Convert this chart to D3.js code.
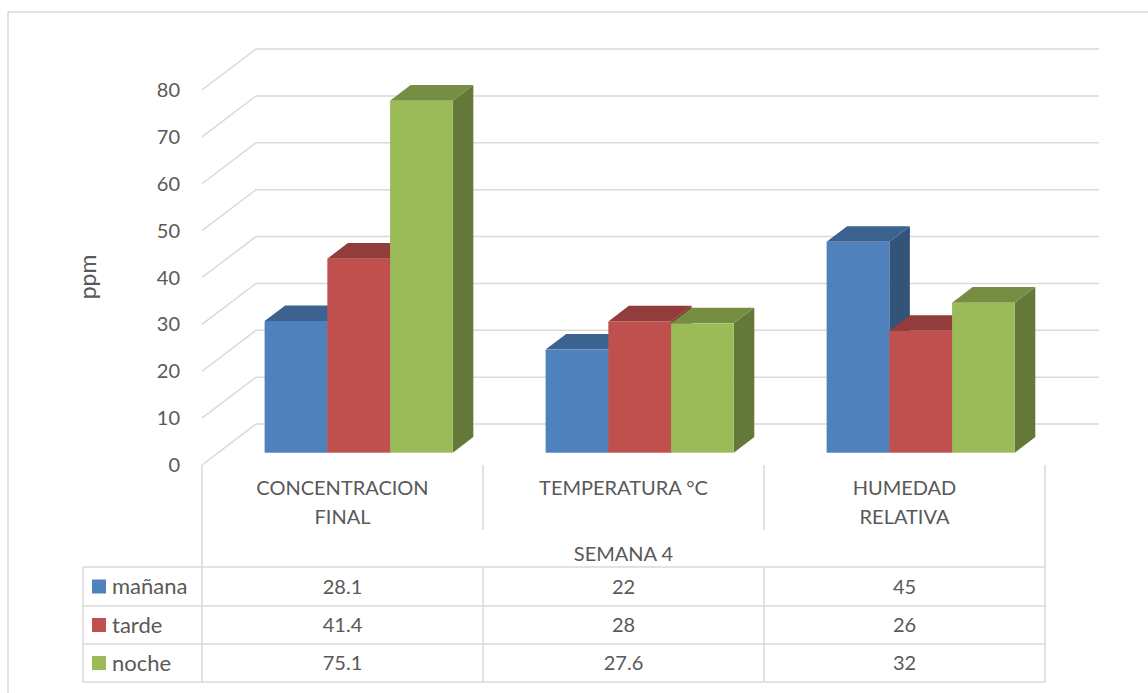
<!DOCTYPE html>
<html>
<head>
<meta charset="utf-8">
<script src="https://cdn.jsdelivr.net/npm/d3@7"></script>
<style>
  body { margin: 0; background: #ffffff; }
  text { font-family: Lato, "Open Sans", sans-serif; fill: #595959; }
</style>
</head>
<body>
<div id="my_dataviz"></div>
<script>
// data
var categories = [["CONCENTRACION", "FINAL"], ["TEMPERATURA °C"], ["HUMEDAD", "RELATIVA"]];
var series = ["mañana", "tarde", "noche"];
var colors = ["#4F81BD", "#C0504D", "#9BBB59"];
var manana = [28.1, 22, 45];
var tarde = [41.4, 28, 26];
var noche = [75.1, 27.6, 32];
var groupLabel = "SEMANA 4";
var yTicks = [0, 10, 20, 30, 40, 50, 60, 70, 80];

var values = [manana, tarde, noche];

var width = 1148
    height = 693

var svg = d3.select("#my_dataviz")
  .append("svg")
    .attr("width", width)
    .attr("height", height);

// chart border
svg.append("rect")
  .attr("x", 8).attr("y", 12)
  .attr("width", 1160).attr("height", 700)
  .attr("fill", "none")
  .attr("stroke", "#D9D9D9")
  .attr("stroke-width", 1.5);

// front plane of the floor, depth vector to back wall
var x0 = 202, x1 = 1045;
var DX = 54, DY = -41;
var t0 = 0.3, t1 = 0.68; // bar depth (front, back) as fraction of floor depth

var y = d3.scaleLinear().domain([0, 80]).range([465, 90]);

var catIdx = categories.map(function(c, i) { return i; });
var x = d3.scaleBand().domain(catIdx).range([x0, x1]);
var xs = d3.scaleBand().domain(series).range([0, x.bandwidth()]).paddingOuter(0.74);

var grid = svg.append("g");

// gridlines: side wall diagonal + back wall horizontal
yTicks.forEach(function(v) {
  var yy = y(v);
  grid.append("path")
    .attr("d", "M" + x0 + "," + yy + "L" + (x0 + DX) + "," + (yy + DY) + "L" + (x1 + DX) + "," + (yy + DY))
    .attr("fill", "none")
    .attr("stroke", "#D9D9D9")
    .attr("stroke-width", 1.5);
  svg.append("text")
    .attr("x", 180)
    .attr("y", yy)
    .attr("dy", "0.35em")
    .attr("text-anchor", "end")
    .style("font-size", "20px")
    .text(v);
});

// axis title
svg.append("text")
  .attr("transform", "translate(88,277) rotate(-90)")
  .attr("dy", "0.35em")
  .attr("text-anchor", "middle")
  .style("font-size", "23px")
  .text("ppm");

// 3d bars
function shade(c, k) {
  var r = d3.rgb(c);
  return d3.rgb(r.r * k, r.g * k, r.b * k).formatHex();
}

var bars = svg.append("g");
catIdx.forEach(function(ci) {
  series.forEach(function(s, si) {
    var v = values[si][ci];
    var bx = x(ci) + xs(s) + t0 * DX;
    var bw = xs.bandwidth();
    var yt = y(v) + t0 * DY;
    var yb = y(0) + t0 * DY;
    var ddx = (t1 - t0) * DX, ddy = (t1 - t0) * DY;
    // side face
    bars.append("path")
      .attr("d", "M" + (bx + bw) + "," + yt + "L" + (bx + bw + ddx) + "," + (yt + ddy) +
        "L" + (bx + bw + ddx) + "," + (yb + ddy) + "L" + (bx + bw) + "," + yb + "Z")
      .attr("fill", shade(colors[si], 0.64));
    // top face
    bars.append("path")
      .attr("d", "M" + bx + "," + yt + "L" + (bx + ddx) + "," + (yt + ddy) +
        "L" + (bx + bw + ddx) + "," + (yt + ddy) + "L" + (bx + bw) + "," + yt + "Z")
      .attr("fill", shade(colors[si], 0.76));
    // front face
    bars.append("rect")
      .attr("x", bx).attr("y", yt)
      .attr("width", bw).attr("height", yb - yt)
      .attr("fill", colors[si]);
  });
});

// data table
var tl = 83;
var rowY = [567, 606, 644, 682];
var tg = svg.append("g")
  .attr("stroke", "#D9D9D9")
  .attr("stroke-width", 1.5);

rowY.forEach(function(r) {
  tg.append("line").attr("x1", tl).attr("x2", x1).attr("y1", r).attr("y2", r);
});
tg.append("line").attr("x1", tl).attr("x2", tl).attr("y1", rowY[0]).attr("y2", rowY[3]);
tg.append("line").attr("x1", x0).attr("x2", x0).attr("y1", y(0)).attr("y2", rowY[3]);
tg.append("line").attr("x1", x1).attr("x2", x1).attr("y1", y(0)).attr("y2", rowY[3]);
catIdx.slice(1).forEach(function(ci) {
  tg.append("line").attr("x1", x(ci)).attr("x2", x(ci)).attr("y1", y(0)).attr("y2", 530);
  tg.append("line").attr("x1", x(ci)).attr("x2", x(ci)).attr("y1", rowY[0]).attr("y2", rowY[3]);
});

// category labels
catIdx.forEach(function(ci) {
  categories[ci].forEach(function(line, li) {
    svg.append("text")
      .attr("x", x(ci) + x.bandwidth() / 2)
      .attr("y", 488 + li * 29)
      .attr("dy", "0.35em")
      .attr("text-anchor", "middle")
      .style("font-size", "20px")
      .text(line);
  });
});

svg.append("text")
  .attr("x", (x0 + x1) / 2)
  .attr("y", 554)
  .attr("dy", "0.35em")
  .attr("text-anchor", "middle")
  .style("font-size", "20px")
  .text(groupLabel);

// rows
series.forEach(function(s, si) {
  var cy = (rowY[si] + rowY[si + 1]) / 2;
  svg.append("rect")
    .attr("x", 92).attr("y", cy - 7)
    .attr("width", 14).attr("height", 14)
    .attr("fill", colors[si]);
  svg.append("text")
    .attr("x", 112).attr("y", cy)
    .attr("dy", "0.35em")
    .style("font-size", "22px")
    .text(s);
  catIdx.forEach(function(ci) {
    svg.append("text")
      .attr("x", x(ci) + x.bandwidth() / 2)
      .attr("y", cy)
      .attr("dy", "0.35em")
      .attr("text-anchor", "middle")
      .style("font-size", "20px")
      .text(values[si][ci]);
  });
});
</script>
</body>
</html>
